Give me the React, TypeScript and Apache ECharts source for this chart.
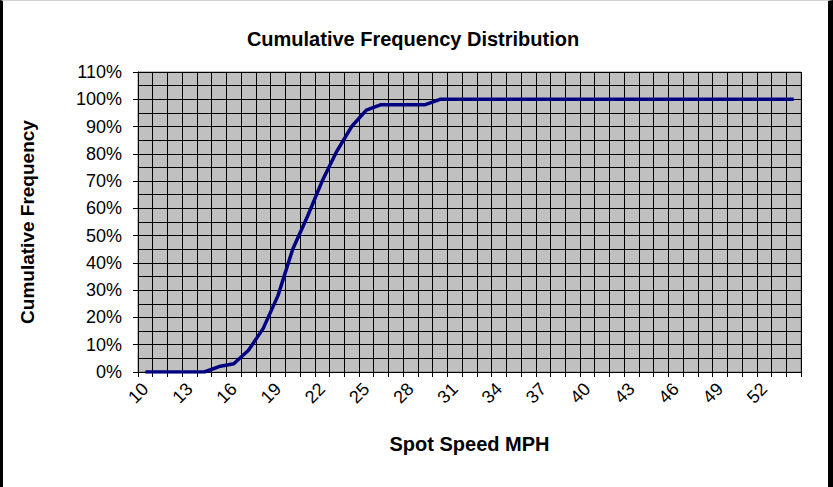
import React, { useEffect, useRef } from "react";
import * as echarts from "echarts";

const speeds: string[] = [];
for (let s = 10; s <= 54; s++) speeds.push(String(s));

const cumulative: number[] = [
  0, 0, 0, 0, 0, 0.02, 0.03, 0.08, 0.16, 0.28,
  0.45, 0.57, 0.70, 0.81, 0.90, 0.96, 0.98, 0.98, 0.98, 0.98,
  1, 1, 1, 1, 1, 1, 1, 1, 1, 1,
  1, 1, 1, 1, 1, 1, 1, 1, 1, 1,
  1, 1, 1, 1, 1,
];

const FONT = "'Liberation Sans', Arial, sans-serif";

export default function App() {
  const ref = useRef<HTMLDivElement>(null);
  useEffect(() => {
    document.body.style.margin = "0";
    const chart = echarts.init(ref.current!, null, { renderer: "svg" });
    chart.setOption({
      animation: false,
      backgroundColor: "#ffffff",
      title: {
        text: "Cumulative Frequency Distribution",
        left: 405,
        top: 23,
        textAlign: "center",
        textStyle: { fontFamily: FONT, fontSize: 20, fontWeight: "bold", color: "#000" },
      },
      grid: { left: 135, right: 27, top: 71, bottom: 115, show: true, backgroundColor: "#c0c0c0", borderColor: "#808080", borderWidth: 1 },
      xAxis: {
        type: "category",
        data: speeds,
        boundaryGap: true,
        name: "Spot Speed MPH",
        nameLocation: "middle",
        nameGap: 62,
        nameTextStyle: { fontFamily: FONT, fontSize: 20, fontWeight: "bold", color: "#000" },
        axisLine: { lineStyle: { color: "#000", width: 1 } },
        axisTick: { show: true, interval: 0, length: 5, lineStyle: { color: "#000" } },
        axisLabel: { interval: 2, rotate: 45, fontFamily: FONT, fontSize: 18, color: "#000", margin: 14 },
        splitLine: { show: true, interval: 0, lineStyle: { color: "#000", width: 1 } },
      },
      yAxis: {
        type: "value",
        min: 0,
        max: 1.1,
        interval: 0.1,
        name: "Cumulative Frequency",
        nameLocation: "middle",
        nameRotate: 90,
        nameGap: 101,
        nameTextStyle: { fontFamily: FONT, fontSize: 19, fontWeight: "bold", color: "#000" },
        axisLine: { show: true, lineStyle: { color: "#000", width: 1 } },
        axisTick: { show: true, length: 5, lineStyle: { color: "#000" } },
        axisLabel: {
          fontFamily: FONT,
          fontSize: 18,
          color: "#000",
          margin: 16,
          formatter: (v: number) => Math.round(v * 100) + "%",
        },
        splitLine: { show: true, lineStyle: { color: "#000", width: 1 } },
        minorTick: { show: false, splitNumber: 2 },
        minorSplitLine: { show: true, lineStyle: { color: "#000", width: 1 } },
      },
      series: [
        {
          type: "line",
          data: cumulative,
          symbol: "none",
          lineStyle: { color: "#000080", width: 3.5 },
        },
      ],
    });
    return () => chart.dispose();
  }, []);
  return (
    <div
      style={{
        width: 833,
        height: 487,
        boxSizing: "border-box",
        borderLeft: "3px solid #000",
        borderRight: "5px solid #000",
        borderTop: "1px solid #d0d0d0",
        background: "#fff",
      }}
    >
      <div ref={ref} style={{ width: 825, height: 486 }} />
    </div>
  );
}
